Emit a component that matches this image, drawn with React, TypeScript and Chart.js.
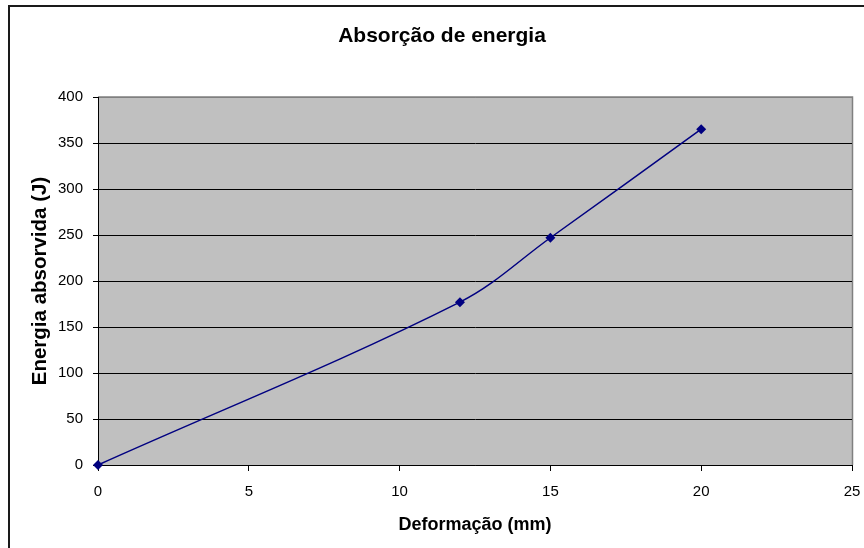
import React, { useEffect, useRef } from "react";
import { Chart, registerables } from "chart.js";

Chart.register(...registerables);

// ---- Data ----
const deformacaoMm = [0, 12, 15, 20];
const energiaJ = [0, 177, 247, 365];

const chartTitle = "Absorção de energia";
const xAxisTitle = "Deformação (mm)";
const yAxisTitle = "Energia absorvida (J)";

const xTickMin = 0;
const xTickMax = 25;
const xTickStep = 5;
const yTickMin = 0;
const yTickMax = 400;
const yTickStep = 50;

const FONT = '"Liberation Sans", Arial, Helvetica, sans-serif';

const excelBackground = {
  id: "excelBackground",
  beforeDraw(chart: any) {
    const { ctx, chartArea, width, height } = chart;
    ctx.save();
    ctx.fillStyle = "#ffffff";
    ctx.fillRect(0, 0, width, height);
    // outer chart frame
    ctx.fillStyle = "#1a1a1a";
    ctx.fillRect(8, 5, width - 8, 2);
    ctx.fillRect(8, 5, 2, height - 5);
    // plot area
    ctx.fillStyle = "#c0c0c0";
    ctx.fillRect(
      chartArea.left,
      chartArea.top,
      chartArea.right - chartArea.left,
      chartArea.bottom - chartArea.top
    );
    ctx.strokeStyle = "#808080";
    ctx.lineWidth = 1.5;
    ctx.beginPath();
    ctx.moveTo(chartArea.left, chartArea.top);
    ctx.lineTo(chartArea.right + 0.5, chartArea.top);
    ctx.lineTo(chartArea.right + 0.5, chartArea.bottom);
    ctx.stroke();
    ctx.restore();
  },
};

export default function App() {
  const canvasRef = useRef<HTMLCanvasElement | null>(null);

  useEffect(() => {
    if (!canvasRef.current) return;
    const points = deformacaoMm.map((x, i) => ({ x, y: energiaJ[i] }));
    const chart = new Chart(canvasRef.current, {
      type: "line",
      data: {
        datasets: [
          {
            label: "Energia absorvida",
            data: points,
            borderColor: "#000080",
            backgroundColor: "#000080",
            borderWidth: 1.5,
            pointStyle: "rectRot",
            pointRadius: 5,
            pointBorderWidth: 0,
            pointBackgroundColor: "#000080",
            tension: 0.35,
            fill: false,
            clip: false,
          },
        ],
      },
      options: {
        responsive: false,
        animation: false,
        events: [],
        layout: { padding: { left: 20, right: 0, top: 0, bottom: 0 } },
        plugins: {
          legend: { display: false },
          tooltip: { enabled: false },
          title: {
            display: true,
            text: chartTitle,
            color: "#000",
            font: { family: FONT, size: 21, weight: "bold", lineHeight: 1.2 },
            padding: { top: 23.4, bottom: 48.4 },
          },
        },
        scales: {
          x: {
            type: "linear",
            min: xTickMin,
            max: xTickMax,
            ticks: {
              stepSize: xTickStep,
              color: "#000",
              font: { family: FONT, size: 15 },
              padding: 12,
              maxRotation: 0,
            },
            grid: {
              drawOnChartArea: false,
              drawTicks: true,
              tickLength: 6,
              tickColor: "#000",
            },
            border: { display: true, color: "#000", width: 1 },
            title: {
              display: true,
              text: xAxisTitle,
              color: "#000",
              font: { family: FONT, size: 18, weight: "bold", lineHeight: 1.2 },
              padding: { top: 0, bottom: 12.2 },
            },
            afterFit(scale: any) {
              scale.height = 83;
              scale.paddingRight = 12;
            },
          },
          y: {
            type: "linear",
            min: yTickMin,
            max: yTickMax,
            ticks: {
              stepSize: yTickStep,
              color: "#000",
              font: { family: FONT, size: 15 },
              padding: 10,
            },
            grid: {
              color: (ctx: any) =>
                ctx.tick && ctx.tick.value === yTickMax ? "#808080" : "#000",
              lineWidth: 1,
              tickLength: 5,
              tickColor: "#000",
            },
            border: { display: true, color: "#000", width: 1 },
            title: {
              display: true,
              text: yAxisTitle,
              color: "#000",
              font: { family: FONT, size: 20.5, weight: "bold", lineHeight: 1.2 },
              padding: { top: 7.7, bottom: 0 },
            },
            afterFit(scale: any) {
              scale.width = 78;
            },
          },
        },
      },
      plugins: [excelBackground],
    });
    return () => chart.destroy();
  }, []);

  return (
    <div style={{ position: "fixed", left: 0, top: 0, width: 864, height: 548 }}>
      <canvas ref={canvasRef} width={864} height={548} style={{ display: "block" }} />
    </div>
  );
}
